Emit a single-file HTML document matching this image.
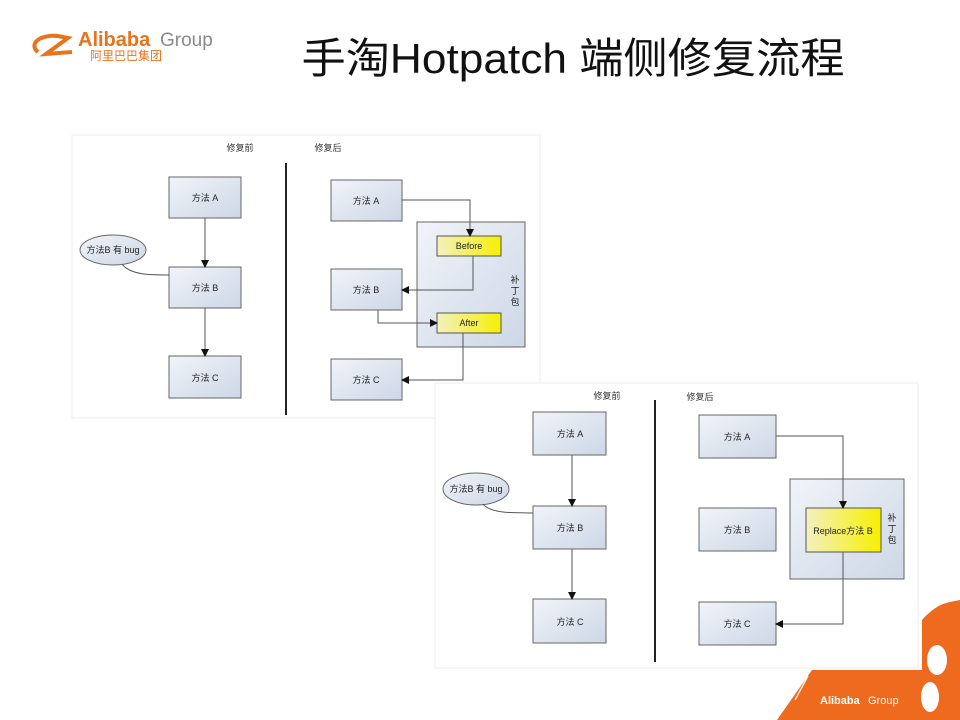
<!DOCTYPE html>
<html><head><meta charset="utf-8"><style>
html,body{margin:0;padding:0;background:#fff;}
svg{display:block;}
text{font-family:"Liberation Sans","Noto Sans CJK SC",sans-serif;}
</style></head><body>
<svg width="960" height="720" viewBox="0 0 960 720" xmlns="http://www.w3.org/2000/svg">
<defs>
<linearGradient id="bx" x1="0" y1="0" x2="1" y2="1"><stop offset="0" stop-color="#f1f4f9"/><stop offset="1" stop-color="#cdd7e6"/></linearGradient>
<linearGradient id="yl" x1="0" y1="0" x2="1" y2="0"><stop offset="0" stop-color="#f3f0c0"/><stop offset="1" stop-color="#f7f000"/></linearGradient>
<marker id="ar" markerWidth="8" markerHeight="8" refX="7" refY="4" orient="auto" markerUnits="userSpaceOnUse"><path d="M0,0 L8,4 L0,8 Z" fill="#111"/></marker>
</defs>
<!-- bottom-right orange -->
<path d="M777,720 L812,670 L922,670 L922,620 C935,605 950,600 960,598 L960,720 Z" fill="#ee6a1e"/>
<path d="M924,612 C935,603 948,600 960,598" stroke="#fff" stroke-width="4" fill="none"/>
<line x1="808" y1="676" x2="795" y2="700" stroke="#fff" stroke-width="1.5" opacity="0.8"/>
<ellipse cx="937" cy="660" rx="10" ry="15" fill="#fff"/>
<ellipse cx="930" cy="697" rx="9" ry="15" fill="#fff"/>
<text x="820" y="704" font-size="11" font-weight="bold" fill="#fff">Alibaba</text>
<text x="868" y="704" font-size="11" fill="#fff">Group</text>

<!-- logo -->
<path d="M38,52 C28,44 40,34 58,36 L68,38 L46,54 L72,52" fill="none" stroke="#e8731c" stroke-width="4"/>
<text x="78" y="46" font-size="20" font-weight="bold" fill="#e8731c">Alibaba</text>
<text x="160" y="46" font-size="19" fill="#8a8a8a">Group</text>
<text x="90" y="60" font-size="12" fill="#e8731c">阿里巴巴集团</text>
<text x="573" y="73" font-size="42" text-anchor="middle" fill="#111" textLength="543" lengthAdjust="spacingAndGlyphs">手淘Hotpatch 端侧修复流程</text>

<!-- panel 1 -->
<rect x="72" y="135" width="468" height="283" fill="#fff" stroke="#eee"/>
<text x="240" y="151" font-size="9" text-anchor="middle" fill="#333">修复前</text>
<text x="328" y="151" font-size="9" text-anchor="middle" fill="#333">修复后</text>
<line x1="286" y1="163" x2="286" y2="415" stroke="#222" stroke-width="2"/>
<g stroke="#666" fill="url(#bx)">
<rect x="169" y="177" width="72" height="41"/><rect x="169" y="267" width="72" height="41"/><rect x="169" y="356" width="72" height="42"/>
<ellipse cx="113" cy="250" rx="33" ry="15"/>
<rect x="331" y="180" width="71" height="41"/><rect x="331" y="269" width="71" height="41"/><rect x="331" y="359" width="71" height="41"/>
<rect x="417" y="222" width="108" height="125"/>
</g>
<rect x="437" y="236" width="64" height="20" fill="url(#yl)" stroke="#555"/>
<rect x="437" y="313" width="64" height="20" fill="url(#yl)" stroke="#555"/>
<g font-size="9" fill="#222" text-anchor="middle">
<text x="205" y="201">方法 A</text><text x="205" y="291">方法 B</text><text x="205" y="381">方法 C</text>
<text x="113" y="253">方法B 有 bug</text>
<text x="366" y="204">方法 A</text><text x="366" y="293">方法 B</text><text x="366" y="383">方法 C</text>
<text x="469" y="249">Before</text><text x="469" y="326">After</text>
<text x="515" y="283">补</text><text x="515" y="294">丁</text><text x="515" y="305">包</text>
</g>
<g stroke="#555" fill="none" stroke-width="1">
<line x1="205" y1="218" x2="205" y2="267" marker-end="url(#ar)"/>
<line x1="205" y1="308" x2="205" y2="356" marker-end="url(#ar)"/>
<path d="M122,264 C130,275 150,275 169,275"/>
<path d="M402,200 H470 V236" marker-end="url(#ar)"/>
<path d="M473,256 V290 H402" marker-end="url(#ar)"/>
<path d="M378,310 V323 H437" marker-end="url(#ar)"/>
<path d="M463,333 V380 H402" marker-end="url(#ar)"/>
</g>

<!-- panel 2 -->
<rect x="435" y="383" width="483" height="285" fill="#fff" stroke="#eee"/>
<text x="607" y="399" font-size="9" text-anchor="middle" fill="#333">修复前</text>
<text x="700" y="400" font-size="9" text-anchor="middle" fill="#333">修复后</text>
<line x1="655" y1="400" x2="655" y2="662" stroke="#222" stroke-width="2"/>
<g stroke="#666" fill="url(#bx)">
<rect x="533" y="412" width="73" height="43"/><rect x="533" y="506" width="73" height="43"/><rect x="533" y="599" width="73" height="44"/>
<ellipse cx="476" cy="489" rx="33" ry="16"/>
<rect x="699" y="415" width="77" height="43"/><rect x="699" y="508" width="77" height="43"/><rect x="699" y="602" width="77" height="43"/>
<rect x="790" y="479" width="114" height="100"/>
</g>
<rect x="806" y="508" width="75" height="44" fill="url(#yl)" stroke="#555"/>
<g font-size="9" fill="#222" text-anchor="middle">
<text x="570" y="437">方法 A</text><text x="570" y="531">方法 B</text><text x="570" y="625">方法 C</text>
<text x="476" y="492">方法B 有 bug</text>
<text x="737" y="440">方法 A</text><text x="737" y="533">方法 B</text><text x="737" y="627">方法 C</text>
<text x="843" y="534">Replace方法 B</text>
<text x="892" y="521">补</text><text x="892" y="532">丁</text><text x="892" y="543">包</text>
</g>
<g stroke="#555" fill="none">
<line x1="572" y1="455" x2="572" y2="506" marker-end="url(#ar)"/>
<line x1="572" y1="549" x2="572" y2="599" marker-end="url(#ar)"/>
<path d="M483,504 C490,513 510,513 533,513"/>
<path d="M776,436 H843 V508" marker-end="url(#ar)"/>
<path d="M843,552 V624 H776" marker-end="url(#ar)"/>
</g>
</svg>
</body></html>
